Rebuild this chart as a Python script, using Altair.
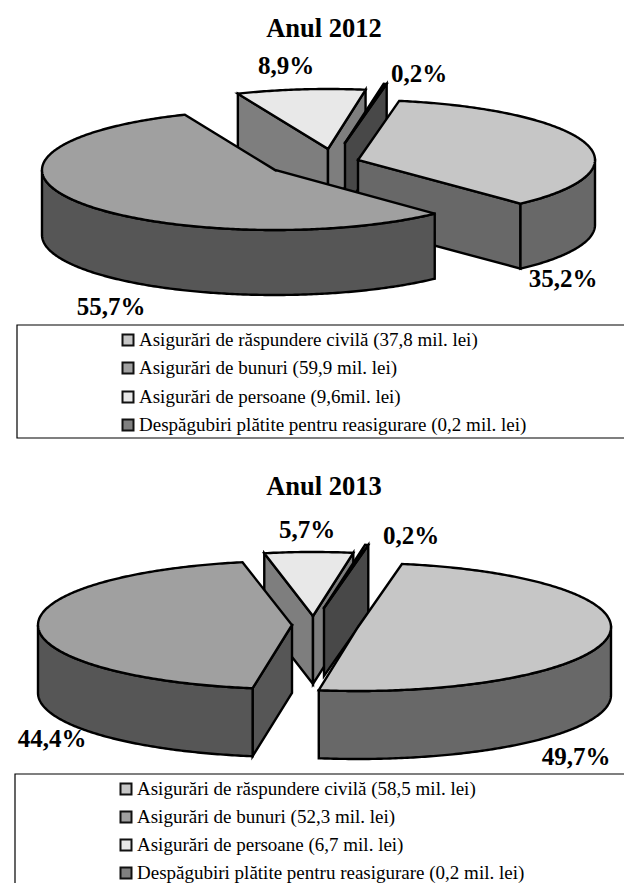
import numpy as np
import pandas as pd
import altair as alt

# ---- values
TITLES = ["Anul 2012", "Anul 2013"]
SHARES_2012 = [35.2, 55.7, 8.9, 0.2]
SHARES_2013 = [49.7, 44.4, 5.7, 0.2]
LABELS_2012 = ["35,2%", "55,7%", "8,9%", "0,2%"]
LABELS_2013 = ["49,7%", "44,4%", "5,7%", "0,2%"]
LEGEND_2012 = ["Asigurări de răspundere civilă (37,8 mil. lei)",
               "Asigurări de bunuri (59,9 mil. lei)",
               "Asigurări de persoane (9,6mil. lei)",
               "Despăgubiri plătite pentru reasigurare (0,2 mil. lei)"]
LEGEND_2013 = ["Asigurări de răspundere civilă (58,5 mil. lei)",
               "Asigurări de bunuri (52,3 mil. lei)",
               "Asigurări de persoane (6,7 mil. lei)",
               "Despăgubiri plătite pentru reasigurare (0,2 mil. lei)"]

# ---- styling / layout
TOP = ["#c6c6c6", "#a0a0a0", "#e8e8e8", "#8c8c8c"]
WALL = ["#686868", "#565656", "#7e7e7e", "#484848"]
SWATCH = ["#c6c6c6", "#a0a0a0", "#e8e8e8", "#808080"]
START = 10.0
L12 = dict(cx=[358, 275, 328, 345], cy=[160, 170, 149, 143], a=[237, 233, 233, 240], b=60, d=65,
           order=[2, 3, 0, 1])
L13 = dict(cx=[358, 292, 313, 324], cy=[627, 625, 616, 608], a=[253, 254, 250, 255], b=64, d=68,
           order=[2, 3, 0, 1])

rows = []
pid = [0]


def add(points, fill):
    pid[0] += 1
    pts = list(points) + [points[0]]
    for i, (x, y) in enumerate(pts):
        rows.append(dict(poly=pid[0], i=i, x=float(x), y=float(y), fill=fill))


def pie(shares, L):
    edges = START + np.concatenate([[0], np.cumsum(shares)]) * 3.6
    # painter's order: slices ranked by L["order"], back to front
    for k in sorted(range(4), key=lambda s: L["order"][s]):
        cx, cy, a, b, d = L["cx"][k], L["cy"][k], L["a"][k], L["b"], L["d"]
        t0, t1 = edges[k], edges[k + 1]
        n = max(3, int((t1 - t0) * 1.5))
        th = np.radians(np.linspace(t0, t1, n))
        xs = cx + a * np.sin(th)
        ys = cy - b * np.cos(th)
        # radial walls that face the viewer
        if np.sin(np.radians(t0)) < 0:
            add([(cx, cy), (xs[0], ys[0]), (xs[0], ys[0] + d), (cx, cy + d)], WALL[k])
        if np.sin(np.radians(t1)) > 0:
            add([(cx, cy), (xs[-1], ys[-1]), (xs[-1], ys[-1] + d), (cx, cy + d)], WALL[k])
        # outer wall, front half only
        lo, hi = max(t0, 90), min(t1, 270)
        if hi > lo:
            tf = np.radians(np.linspace(lo, hi, int((hi - lo) * 1.5)))
            fx = cx + a * np.sin(tf)
            fy = cy - b * np.cos(tf)
            add(list(zip(fx, fy)) + list(zip(fx[::-1], fy[::-1] + d)), WALL[k])
        # top
        add([(cx, cy)] + list(zip(xs, ys)), TOP[k])


pie(SHARES_2012, L12)
pie(SHARES_2013, L13)
polys = pd.DataFrame(rows)

xscale = alt.Scale(domain=[8, 624], range=[0, 616])
X = alt.X("x:Q", scale=xscale, axis=None)
Y = alt.Y("y:Q", scale=alt.Scale(domain=[8, 883], range=[0, 875]), axis=None)

poly_layer = alt.Chart(polys).mark_line(stroke="black", strokeWidth=2.4, strokeJoin="miter", strokeCap="square").encode(
    x=X, y=Y, detail="poly:N", order="i:Q",
    fill=alt.Fill("fill:N", scale=None),
)

boxes = pd.DataFrame([dict(x=17, x2=630, y=325, y2=438), dict(x=15, x2=628, y=774, y2=900)])
box_layer = alt.Chart(boxes).mark_rect(fill="white", stroke="black", strokeWidth=1.2, clip=True).encode(
    x=X, y=Y, x2="x2:Q", y2="y2:Q")

texts = []
for x, y, t in zip([324, 324], [29, 487], TITLES):
    texts.append(dict(x=x, y=y, t=t, s=26.5))
for x, y, t in zip([563, 111, 286, 419], [279, 307, 66, 74], LABELS_2012):
    texts.append(dict(x=x, y=y, t=t, s=25))
for x, y, t in zip([576, 52, 307, 411], [757, 739, 530, 536], LABELS_2013):
    texts.append(dict(x=x, y=y, t=t, s=25))
bold_layer = alt.Chart(pd.DataFrame(texts)).mark_text(
    font="Liberation Serif", fontWeight="bold", color="black", align="center", baseline="middle"
).encode(x=X, y=Y, text="t:N", size=alt.Size("s:Q", scale=None))

leg = []
for ys, labels, tx in [([340, 368, 397, 425], LEGEND_2012, 139), ([789, 817, 845, 873], LEGEND_2013, 137)]:
    for k, (y, t) in enumerate(zip(ys, labels)):
        leg.append(dict(x=tx, y=y, t=t, sx=tx - 11, fill=SWATCH[k]))
leg = pd.DataFrame(leg)
leg_text = alt.Chart(leg).mark_text(
    font="Liberation Serif", fontSize=19, color="black", align="left", baseline="middle"
).encode(x=X, y=Y, text="t:N")
leg_sw = alt.Chart(leg).mark_point(shape="square", size=121, filled=True, stroke="#111111", strokeWidth=2, opacity=1).encode(
    x=alt.X("sx:Q", scale=xscale, axis=None),
    y=Y, fill=alt.Fill("fill:N", scale=None))

chart = alt.layer(box_layer, poly_layer, bold_layer, leg_sw, leg_text).properties(
    width=616, height=875, padding=0, autosize=alt.AutoSizeParams(type="none"), background="white"
).configure_view(stroke=None)

chart.save("out.html", embed_options={"renderer": "svg", "actions": False})
